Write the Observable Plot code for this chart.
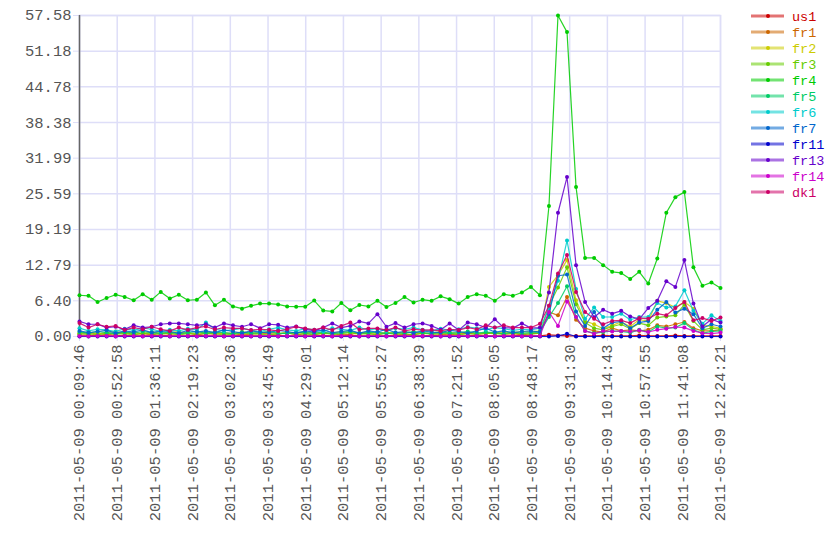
<!DOCTYPE html>
<html><head><meta charset="utf-8">
<script src="https://cdn.jsdelivr.net/npm/d3@7"></script>
<script src="https://cdn.jsdelivr.net/npm/@observablehq/plot@0.6"></script>
<style>body{margin:0;background:#fff}</style>
</head><body><div id="chart"></div>
<script>
const seriesNames = ["us1","fr1","fr2","fr3","fr4","fr5","fr6","fr7","fr11","fr13","fr14","dk1"];
const seriesColors = ["#cc0000","#cc6600","#cccc00","#66cc00","#00cc00","#00cc66","#00cccc","#0066cc","#0000cc","#6600cc","#cc00cc","#cc0066"];
const startTime = "2011-05-09 00:09:46";
const endTime = "2011-05-09 12:24:21";
const xTickLabels = ["2011-05-09 00:09:46","2011-05-09 00:52:58","2011-05-09 01:36:11","2011-05-09 02:19:23","2011-05-09 03:02:36","2011-05-09 03:45:49","2011-05-09 04:29:01","2011-05-09 05:12:14","2011-05-09 05:55:27","2011-05-09 06:38:39","2011-05-09 07:21:52","2011-05-09 08:05:05","2011-05-09 08:48:17","2011-05-09 09:31:30","2011-05-09 10:14:43","2011-05-09 10:57:55","2011-05-09 11:41:08","2011-05-09 12:24:21"];
const yTickLabels = ["0.00","6.40","12.79","19.19","25.59","31.99","38.38","44.78","51.18","57.58"];

const us1 = [0.1,0.1,0.2,0.1,0.1,0.2,0.1,0.1,0.1,0.2,0.1,0.1,0.1,0.2,0.1,0.1,0.1,0.1,0.2,0.1,0.1,0.1,0.2,0.1,0.1,0.1,0.1,0.2,0.1,0.1,0.2,0.1,0.1,0.1,0.1,0.2,0.1,0.1,0.1,0.2,0.1,0.1,0.1,0.1,0.2,0.1,0.1,0.1,0.1,0.2,0.1,0.1,0.3,0.2,0.1,0.1,0.1,0.1,0.2,0.1,0.1,0.1,0.2,0.1,0.1,0.1,0.2,0.1,0.1,0.1,0.1,0.1];
const fr1 = [0.5,0.4,0.6,0.3,0.5,0.7,0.4,0.5,0.3,0.6,0.4,0.5,0.7,0.3,0.5,0.4,0.6,0.5,0.3,0.4,0.6,0.5,0.4,0.7,0.3,0.5,0.4,0.6,0.5,0.3,0.4,0.6,0.5,0.4,0.7,0.5,0.3,0.4,0.6,0.5,0.4,0.3,0.5,0.6,0.4,0.5,0.7,0.4,0.5,0.3,0.5,0.6,4.4,3.8,7.1,3.0,1.5,1.0,0.8,1.5,1.0,1.2,1.0,1.2,2.0,1.8,2.2,2.6,1.5,1.0,1.0,1.2];
const fr2 = [0.6,0.8,0.5,0.7,0.9,0.6,0.7,0.5,0.8,0.6,0.7,0.9,0.5,0.6,0.8,0.7,0.5,0.6,0.8,0.7,0.6,0.9,0.5,0.7,0.6,0.8,0.7,0.5,0.6,0.9,0.7,0.6,0.8,0.5,0.7,0.6,0.8,0.7,0.5,0.6,0.9,0.7,0.6,0.8,0.5,0.7,0.6,0.8,0.7,0.9,0.8,1.0,8.9,11.0,13.7,6.5,2.8,2.2,1.4,2.0,2.6,1.8,3.0,2.8,6.4,6.0,5.2,6.2,5.0,2.0,1.8,1.5];
const fr3 = [0.4,0.5,0.3,0.6,0.4,0.5,0.3,0.6,0.5,0.4,0.6,0.3,0.5,0.4,0.6,0.5,0.3,0.4,0.6,0.5,0.4,0.3,0.5,0.6,0.4,0.5,0.3,0.6,0.4,0.5,0.7,0.4,0.5,0.3,0.6,0.4,0.5,0.3,0.6,0.4,0.5,0.6,0.3,0.5,0.4,0.6,0.5,0.4,0.6,0.5,0.4,0.6,5.5,8.8,12.4,5.8,2.5,1.5,1.2,1.8,2.2,1.4,2.4,2.0,3.4,3.6,3.8,5.7,2.8,1.2,1.5,1.3];
const fr4 = [7.4,7.3,6.2,6.9,7.5,7.1,6.5,7.6,6.6,8.0,6.8,7.5,6.5,6.6,7.9,5.6,6.6,5.4,5.0,5.5,5.9,5.9,5.75,5.4,5.35,5.35,6.45,4.65,4.5,6.0,4.7,5.65,5.4,6.4,5.3,6.0,7.1,6.1,6.6,6.4,7.2,6.7,5.9,7.1,7.6,7.3,6.4,7.6,7.3,7.9,8.9,7.4,23.4,57.58,54.6,26.8,14.1,14.1,12.8,11.6,11.4,10.3,11.6,9.5,14.0,22.2,25.0,25.9,12.4,9.1,9.7,8.7];
const fr5 = [0.8,0.6,0.9,0.7,0.5,0.8,0.6,0.9,0.7,0.6,0.8,0.5,0.7,0.9,0.6,0.8,0.7,0.5,0.8,0.6,0.7,0.9,0.6,0.5,0.8,0.7,0.6,0.8,0.5,0.7,0.9,0.6,0.7,0.8,0.5,0.7,0.6,0.9,0.7,0.5,0.8,0.6,0.7,0.9,0.6,0.8,0.7,0.5,0.8,0.6,0.7,0.8,3.5,6.0,9.0,3.5,1.0,0.6,0.8,1.0,0.9,0.7,1.2,0.8,1.8,1.5,1.6,2.4,1.2,0.6,0.9,1.0];
const fr6 = [1.5,1.0,1.3,1.2,0.9,1.4,1.1,1.5,1.3,0.9,1.2,1.0,1.4,1.2,2.5,1.3,1.0,1.2,1.5,1.1,0.9,1.3,1.6,1.2,1.0,1.4,1.2,0.9,1.5,1.3,1.1,1.6,1.2,1.4,1.0,1.5,1.3,1.6,1.2,1.0,1.4,1.1,1.3,1.7,1.5,1.2,1.6,1.4,1.1,1.3,1.2,1.5,5.0,10.0,17.2,8.5,3.2,5.2,3.5,3.5,4.1,3.0,3.5,3.5,6.0,5.2,5.4,8.3,4.6,2.3,3.8,2.8];
const fr7 = [1.0,0.7,0.9,1.1,0.6,1.0,0.8,1.2,0.7,1.0,0.9,0.6,1.1,0.8,1.0,0.7,1.2,0.9,0.6,1.0,0.8,0.7,1.1,0.9,0.6,1.0,0.8,1.2,0.7,0.9,1.1,0.6,1.0,0.8,1.3,0.7,0.9,0.6,1.0,0.8,0.7,1.1,0.9,0.6,1.0,1.5,0.8,1.0,0.7,0.9,1.0,0.8,4.0,10.9,11.1,4.5,1.9,4.4,1.5,2.5,2.7,1.5,2.5,2.8,4.8,6.2,4.3,5.0,4.0,1.5,2.2,1.8];
const fr11 = [0,0,0,0,0,0,0,0,0,0,0,0,0,0,0,0,0,0,0,0,0,0,0,0,0,0,0,0,0,0,0,0,0,0,0,0,0,0,0,0,0,0,0,0,0,0,0,0,0,0,0,0,0,0.1,0.5,0,0,0,0,0,0,0,0,0,0,0,0,0,0,0,0,0];
const fr13 = [2.7,2.2,2.2,1.6,1.75,1.3,2.0,1.6,1.75,2.2,2.35,2.35,2.2,2.0,2.2,1.6,2.35,2.0,1.75,2.2,1.5,2.2,2.1,1.6,1.8,1.3,1.0,1.6,2.35,1.6,1.9,2.7,2.35,4.0,1.75,2.4,1.6,2.2,2.35,1.9,1.2,2.35,1.15,2.5,2.2,1.6,3.1,1.6,1.5,2.35,1.5,1.6,7.9,22.2,28.6,12.8,6.2,3.45,4.8,4.1,4.6,3.6,3.1,5.1,6.4,9.9,8.9,13.7,5.9,1.8,3.1,2.5];
const fr14 = [0.1,0.05,0.1,0.1,0.05,0.1,0.1,0.05,0.1,0.1,0.05,0.1,0.1,0.05,0.1,0.1,0.05,0.1,0.1,0.05,0.1,0.1,0.05,0.1,0.1,0.05,0.1,0.1,0.05,0.1,0.1,0.05,0.1,0.1,0.05,0.1,0.1,0.05,0.1,0.1,0.05,0.1,0.1,0.05,0.1,0.1,0.05,0.1,0.1,0.05,0.1,0.1,4.4,1.9,6.3,3.5,1.0,0.5,1.0,0.9,1.0,0.9,1.1,0.8,1.2,1.4,1.7,1.6,1.0,0.6,0.5,0.7];
const dk1 = [2.4,1.6,2.2,1.75,1.9,1.15,1.6,1.3,1.75,1.3,1.0,1.6,1.2,1.6,1.8,1.25,1.6,1.45,1.45,1.15,1.3,1.2,1.0,1.3,1.75,1.45,1.2,1.6,1.15,1.9,2.5,1.25,1.45,1.45,1.15,1.6,1.0,1.3,1.15,1.2,1.0,1.3,1.15,1.6,1.3,2.0,1.6,2.0,1.6,1.6,1.6,2.3,5.5,11.3,14.6,8.0,4.4,3.2,2.2,2.8,2.9,2.4,3.3,3.2,4.1,3.8,5.1,6.2,2.9,3.3,2.8,3.4];

const seriesValues = [us1,fr1,fr2,fr3,fr4,fr5,fr6,fr7,fr11,fr13,fr14,dk1];
const parse = d3.utcParse("%Y-%m-%d %H:%M:%S");
const fmt = d3.utcFormat("%Y-%m-%d %H:%M:%S");
const t0 = parse(startTime), t1 = parse(endTime);
const n = fr4.length;
const times = d3.range(n).map(i => new Date(+t0 + (t1 - t0) * i / (n - 1)));
const xTicks = xTickLabels.map(parse);
const yTicks = yTickLabels.map(Number);
const gridColor = "#dedef8";
const fontStack = "'Liberation Mono', 'DejaVu Sans Mono', monospace";

const seriesMarks = seriesNames.flatMap((name, s) => {
  const rows = seriesValues[s].map((v, i) => ({t: times[i], v}));
  return [
    Plot.line(rows, {x: "t", y: "v", stroke: seriesColors[s], strokeWidth: 1.2, strokeOpacity: 0.85}),
    Plot.dot(rows, {x: "t", y: "v", fill: seriesColors[s], r: 2})
  ];
});

const chart = Plot.plot({
  width: 840, height: 560,
  marginTop: 15, marginRight: 120, marginBottom: 224, marginLeft: 79,
  style: {fontFamily: fontStack, fontSize: "15.5px", color: "#555", background: "#fff"},
  x: {type: "utc", domain: [t0, t1], axis: null},
  y: {domain: [0, 57.58], axis: null},
  marks: [
    Plot.gridX(xTicks, {stroke: gridColor, strokeOpacity: 1, strokeWidth: 1.5}),
    Plot.gridY(yTicks, {stroke: gridColor, strokeOpacity: 1, strokeWidth: 1.5}),
    Plot.frame({stroke: gridColor, strokeWidth: 1.5}),
    Plot.axisX(xTicks, {tickFormat: fmt, tickRotate: -90, tickSize: 5, tickPadding: 3, stroke: gridColor, fill: "#555", label: null}),
    Plot.axisY(yTicks, {tickFormat: d => d.toFixed(2), tickSize: 6, tickPadding: 2, stroke: gridColor, fill: "#555", label: null}),
    Plot.ruleX([t0], {stroke: "#666", strokeWidth: 1.5}),
    ...seriesMarks
  ]
});

const svg = d3.select(chart);
const lg = svg.append("g").attr("font-family", fontStack).attr("font-size", 13.5).attr("text-anchor", "start");
seriesNames.forEach((name, k) => {
  const y = 16 + 16 * k;
  lg.append("line").attr("x1", 751).attr("x2", 784).attr("y1", y).attr("y2", y)
    .attr("stroke", seriesColors[k]).attr("stroke-width", 3).attr("stroke-opacity", 0.55);
  lg.append("circle").attr("cx", 768).attr("cy", y).attr("r", 2).attr("fill", seriesColors[k]);
  lg.append("text").attr("x", 792).attr("y", y + 4.5).attr("fill", seriesColors[k]).text(name);
});
document.getElementById("chart").appendChild(chart);
</script>
</body></html>
